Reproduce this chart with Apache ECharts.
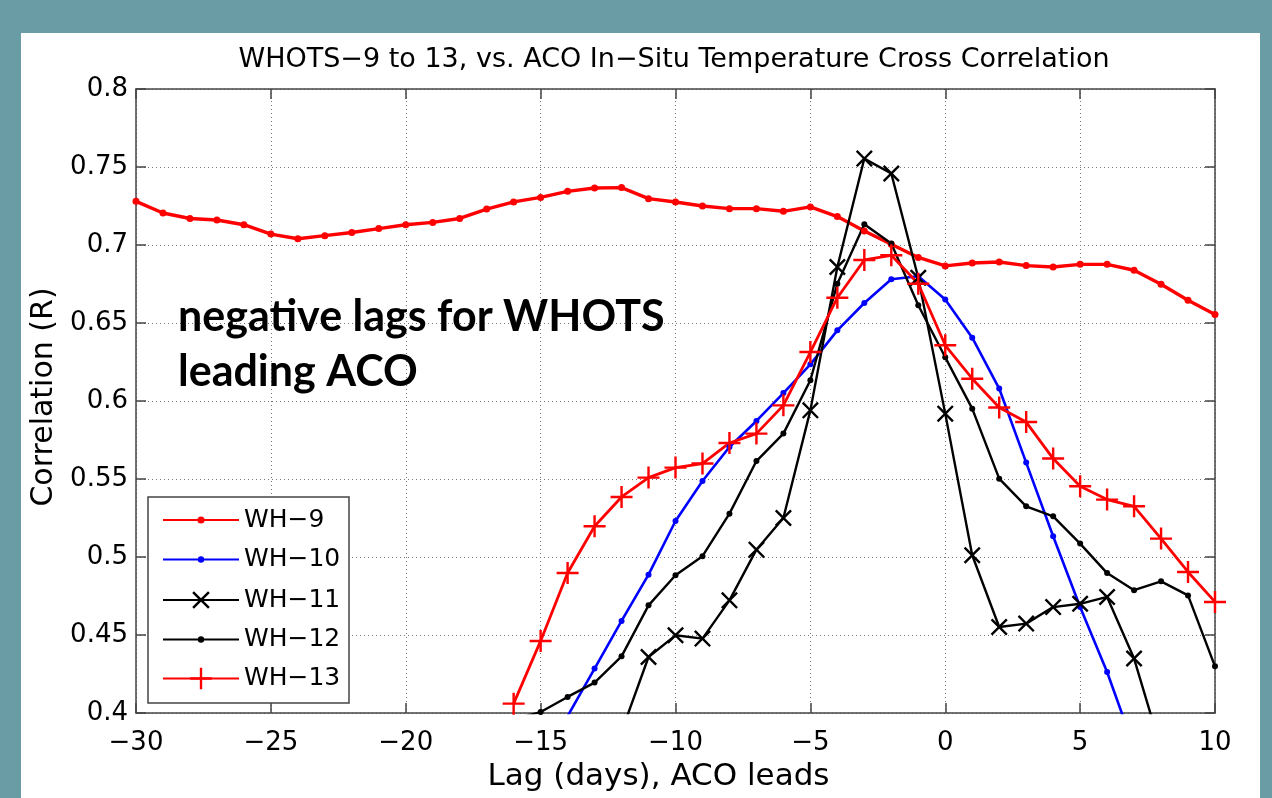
<!DOCTYPE html>
<html>
<head>
<meta charset="utf-8">
<script src="https://cdn.jsdelivr.net/npm/echarts@6/dist/echarts.min.js"></script>
<style>
  html, body { margin: 0; padding: 0; width: 1272px; height: 798px; background: #6A9CA5; overflow: hidden; }
  #panel { position: absolute; left: 21px; top: 33px; width: 1239px; height: 765px; background: #ffffff; }
  #chart { position: absolute; left: 0; top: 0; width: 1272px; height: 798px; }
</style>
</head>
<body>
<div id="panel"></div>
<div id="chart"></div>
<script>
// ---- Data ----
const titleText = 'WHOTS\u22129 to 13, vs. ACO In\u2212Situ Temperature Cross Correlation';
const xTickValues = [-30, -25, -20, -15, -10, -5, 0, 5, 10];
const xTickLabels = ['\u221230', '\u221225', '\u221220', '\u221215', '\u221210', '\u22125', '0', '5', '10'];
const yTickValues = [0.4, 0.45, 0.5, 0.55, 0.6, 0.65, 0.7, 0.75, 0.8];
const yTickLabels = ['0.4', '0.45', '0.5', '0.55', '0.6', '0.65', '0.7', '0.75', '0.8'];
const seriesNames = ['WH\u22129', 'WH\u221210', 'WH\u221211', 'WH\u221212', 'WH\u221213'];

// lag of the first value of each series (one value per day after it)
const wh9Start = -30;
const wh9 = [0.728, 0.7205, 0.717, 0.716, 0.713, 0.707, 0.704, 0.706, 0.708, 0.7105,
             0.713, 0.7145, 0.717, 0.723, 0.7276, 0.7305, 0.7344, 0.7365, 0.7368, 0.7297,
             0.7276, 0.725, 0.7233, 0.7233, 0.7216, 0.7244, 0.7182, 0.709, 0.7005, 0.692,
             0.6866, 0.6885, 0.6891, 0.6868, 0.6859, 0.6876, 0.6876, 0.6838, 0.6748, 0.6646,
             0.6554];
const wh10Start = -14;
const wh10 = [0.398, 0.4285, 0.459, 0.4887, 0.5231, 0.5487, 0.5705, 0.5872, 0.6051, 0.6235,
              0.6453, 0.6628, 0.678, 0.680, 0.665, 0.6406, 0.608, 0.5605, 0.5133, 0.4679,
              0.4263, 0.378];
const wh11Start = -12;
const wh11 = [0.388, 0.4359, 0.4498, 0.4477, 0.4722, 0.5047, 0.525, 0.594, 0.6859, 0.7554,
              0.7458, 0.679, 0.5919, 0.5011, 0.4551, 0.4573, 0.4679, 0.470, 0.4744, 0.4349,
              0.377];
const wh12Start = -16;
const wh12 = [0.396, 0.4006, 0.4103, 0.4195, 0.4363, 0.469, 0.4883, 0.5005, 0.5278, 0.5615,
              0.5791, 0.6133, 0.6752, 0.7133, 0.7009, 0.6614, 0.628, 0.5951, 0.5502, 0.5325,
              0.5261, 0.5086, 0.4897, 0.4787, 0.4844, 0.4754, 0.4299];
const wh13Start = -16;
const wh13 = [0.406, 0.4462, 0.4897, 0.5197, 0.5385, 0.5509, 0.5573, 0.5599, 0.5731, 0.5791,
              0.5972, 0.6314, 0.6662, 0.6904, 0.6934, 0.6752, 0.6357, 0.6143, 0.5958, 0.5865,
              0.5631, 0.5453, 0.5368, 0.5325, 0.5118, 0.4904, 0.4712];

// ---- Build ----
function pairs(start, vals) { return vals.map((v, i) => [start + i, v]); }
const X_SYMBOL = 'path://M0,1 L1,0 L5,4 L9,0 L10,1 L6,5 L10,9 L9,10 L5,6 L1,10 L0,9 L4,5 Z';
const PLUS_SYMBOL = 'path://M4.45,0 H5.55 V4.45 H10 V5.55 H5.55 V10 H4.45 V5.55 H0 V4.45 H4.45 Z';
const FONT = 'DejaVu Sans';

function tickLabel(values, labels) {
  return function (v) {
    for (let i = 0; i < values.length; i++) {
      if (Math.abs(values[i] - v) < 1e-9) return labels[i];
    }
    return '';
  };
}

function mkSeries(name, data, color, width, symbol, size) {
  return {
    name: name, type: 'line', data: data,
    xAxisIndex: 0, yAxisIndex: 0,
    symbol: symbol, symbolSize: size, showSymbol: true,
    lineStyle: { color: color, width: width },
    itemStyle: { color: color, borderWidth: 0 },
    emphasis: { disabled: true },
    clip: true, z: 3
  };
}

const axisLineStyle = { color: '#444', width: 1.5 };
const gridLineStyle = { color: '#777', width: 1, type: [1, 3] };

const legendRows = [
  { name: seriesNames[0], h: 9, center: 520 },
  { name: seriesNames[1], h: 8, center: 559.5 },
  { name: seriesNames[2], h: 22, center: 600 },
  { name: seriesNames[3], h: 8, center: 639.5 },
  { name: seriesNames[4], h: 27, center: 679.5 }
];

const chart = echarts.init(document.getElementById('chart'), null, { renderer: 'canvas' });
const option = {
  animation: false,
  backgroundColor: 'transparent',
  title: {
    text: titleText,
    left: 674, top: 46, textAlign: 'center', padding: 0,
    textStyle: { fontFamily: FONT, fontSize: 27, fontWeight: 'normal', color: '#000' }
  },
  grid: { left: 136, right: 57, top: 89, bottom: 85, containLabel: false },
  xAxis: [
    {
      type: 'value', min: -30, max: 10, interval: 5, position: 'bottom',
      name: 'Lag (days), ACO leads', nameLocation: 'middle', nameGap: 48,
      nameTextStyle: { fontFamily: FONT, fontSize: 31, color: '#000', padding: [0, 34, 0, 0] },
      axisLine: { show: true, onZero: false, lineStyle: axisLineStyle },
      axisTick: { show: true, inside: true, length: 10, lineStyle: axisLineStyle },
      axisLabel: { fontFamily: FONT, fontSize: 26, color: '#000', margin: 17,
                   formatter: tickLabel(xTickValues, xTickLabels) },
      splitLine: { show: true, lineStyle: gridLineStyle }
    },
    {
      type: 'value', min: -30, max: 10, interval: 5, position: 'top',
      axisLine: { show: true, onZero: false, lineStyle: axisLineStyle },
      axisTick: { show: true, inside: true, length: 10, lineStyle: axisLineStyle },
      axisLabel: { show: false },
      splitLine: { show: false }
    }
  ],
  yAxis: [
    {
      type: 'value', min: 0.4, max: 0.8, interval: 0.05, position: 'left',
      name: 'Correlation (R)', nameLocation: 'middle', nameGap: 71, nameRotate: 90,
      nameTextStyle: { fontFamily: FONT, fontSize: 30, color: '#000', padding: [0, 0, 0, 8] },
      axisLine: { show: true, onZero: false, lineStyle: axisLineStyle },
      axisTick: { show: true, inside: true, length: 10, lineStyle: axisLineStyle },
      axisLabel: { fontFamily: FONT, fontSize: 26, color: '#000', margin: 8, padding: [10, 0, 0, 0],
                   formatter: tickLabel(yTickValues, yTickLabels) },
      splitLine: { show: true, lineStyle: gridLineStyle }
    },
    {
      type: 'value', min: 0.4, max: 0.8, interval: 0.05, position: 'right',
      axisLine: { show: true, onZero: false, lineStyle: axisLineStyle },
      axisTick: { show: true, inside: true, length: 10, lineStyle: axisLineStyle },
      axisLabel: { show: false },
      splitLine: { show: false }
    }
  ],
  legend: legendRows.map(r => ({
    data: [r.name],
    left: 162,
    top: r.center - Math.max(r.h, 25) / 2,
    orient: 'vertical',
    padding: 0,
    itemWidth: 76,
    itemHeight: r.h,
    itemGap: 0,
    selectedMode: false,
    z: 10,
    textStyle: { fontFamily: FONT, fontSize: 25, color: '#000' }
  })),
  graphic: [
    {
      type: 'rect', z: 8, silent: true,
      shape: { x: 148, y: 497, width: 201, height: 206 },
      style: { fill: '#fff', stroke: '#444', lineWidth: 1.5 }
    },
    {
      type: 'text', z: 8, silent: true,
      left: 178, top: 290,
      style: {
        text: 'negative lags for WHOTS\nleading ACO',
        font: 'bold 43px Lato',
        lineHeight: 55,
        fill: '#000'
      }
    }
  ],
  series: [
    mkSeries(seriesNames[0], pairs(wh9Start, wh9), '#FF0000', 3.4, 'circle', 7),
    mkSeries(seriesNames[1], pairs(wh10Start, wh10), '#0000FF', 2.6, 'circle', 6),
    mkSeries(seriesNames[2], pairs(wh11Start, wh11), '#000000', 2.4, X_SYMBOL, 17),
    mkSeries(seriesNames[3], pairs(wh12Start, wh12), '#000000', 2.4, 'circle', 6),
    mkSeries(seriesNames[4], pairs(wh13Start, wh13), '#FF0000', 2.8, PLUS_SYMBOL, 22)
  ]
};
chart.setOption(option);
</script>
</body>
</html>
